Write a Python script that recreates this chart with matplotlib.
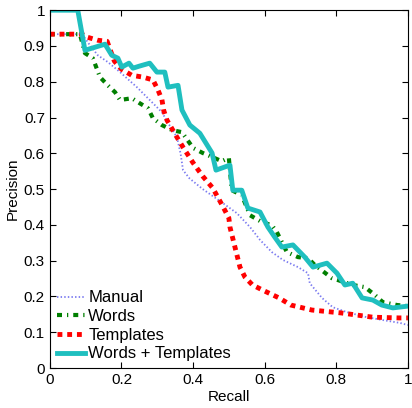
import matplotlib
matplotlib.use("Agg")
import matplotlib.pyplot as plt

plt.rcParams['font.family'] = ['Liberation Sans', 'DejaVu Sans']

manual_r = [0, 0.09, 0.112, 0.134, 0.162, 0.196, 0.243, 0.279, 0.313, 0.33, 0.355, 0.365, 0.372,
            0.39, 0.427, 0.483, 0.522, 0.559, 0.587, 0.62, 0.651, 0.693, 0.721, 0.726, 0.76,
            0.79, 0.83, 0.885, 0.93, 0.978, 1.0]
manual_p = [0.933, 0.933, 0.902, 0.874, 0.855, 0.827, 0.785, 0.749, 0.715, 0.685, 0.645, 0.6, 0.553,
            0.53, 0.5, 0.461, 0.433, 0.394, 0.358, 0.324, 0.302, 0.282, 0.265, 0.237, 0.196,
            0.17, 0.156, 0.142, 0.134, 0.126, 0.12]

words_r = [0, 0.084, 0.098, 0.12, 0.14, 0.162, 0.182, 0.196, 0.229, 0.251, 0.274, 0.288, 0.313,
           0.341, 0.369, 0.4, 0.427, 0.455, 0.48, 0.5, 0.508, 0.536, 0.559, 0.592, 0.62, 0.634,
           0.662, 0.693, 0.721, 0.74, 0.788, 0.804, 0.846, 0.88, 0.908, 0.93, 0.97, 1.0]
words_p = [0.933, 0.933, 0.88, 0.866, 0.813, 0.79, 0.771, 0.749, 0.754, 0.74, 0.726, 0.698, 0.679,
           0.665, 0.659, 0.615, 0.601, 0.589, 0.578, 0.587, 0.497, 0.483, 0.427, 0.408, 0.399, 0.38,
           0.324, 0.31, 0.307, 0.288, 0.251, 0.246, 0.232, 0.226, 0.204, 0.184, 0.176, 0.173]

templ_r = [0, 0.09, 0.103, 0.134, 0.16, 0.18, 0.2, 0.229, 0.26, 0.288, 0.302, 0.313, 0.318, 0.327,
           0.355, 0.372, 0.399, 0.427, 0.455, 0.483, 0.5, 0.503, 0.517, 0.531, 0.545, 0.566,
           0.6, 0.64, 0.673, 0.732, 0.813, 0.902, 0.975, 1.0]
templ_p = [0.933, 0.933, 0.925, 0.916, 0.913, 0.858, 0.835, 0.818, 0.813, 0.805, 0.777, 0.75, 0.72,
           0.693, 0.645, 0.617, 0.575, 0.536, 0.503, 0.452, 0.419, 0.394, 0.338, 0.282, 0.254,
           0.232, 0.215, 0.196, 0.176, 0.162, 0.154, 0.142, 0.14, 0.14]

wt_r = [0, 0.078, 0.098, 0.154, 0.173, 0.19, 0.201, 0.221, 0.232, 0.251, 0.279, 0.299, 0.321,
        0.33, 0.358, 0.369, 0.391, 0.419, 0.453, 0.464, 0.503, 0.511, 0.536, 0.553, 0.587,
        0.609, 0.628, 0.648, 0.679, 0.712, 0.735, 0.774, 0.802, 0.824, 0.846, 0.872, 0.902,
        0.927, 0.958, 1.0]
wt_p = [1.0, 1.0, 0.888, 0.905, 0.874, 0.866, 0.841, 0.852, 0.838, 0.844, 0.852, 0.827, 0.827,
        0.785, 0.79, 0.721, 0.679, 0.656, 0.601, 0.553, 0.567, 0.497, 0.497, 0.447, 0.436,
        0.394, 0.366, 0.338, 0.344, 0.31, 0.282, 0.293, 0.265, 0.232, 0.237, 0.196, 0.19,
        0.176, 0.168, 0.173]

fig = plt.figure(figsize=(4.12, 4.08), dpi=100)
ax = fig.add_axes([0.121, 0.098, 0.869, 0.877])

ax.plot(manual_r, manual_p, color='#7b7bf0', lw=1.3, ls=(0, (0.8, 1.2)), label='Manual')
ax.plot(words_r, words_p, color='#007f00', lw=3, ls=(0, (1.2, 1.2, 0.3, 1.2)), label='Words')
ax.plot(templ_r, templ_p, color='#ff0000', lw=3.5, ls=(0, (1, 1)), label='Templates')
ax.plot(wt_r, wt_p, color='#1fbfbf', lw=3.5, label='Words + Templates')

ax.set_xlim(0, 1)
ax.set_ylim(0, 1)
ax.set_xticks([0, 0.2, 0.4, 0.6, 0.8, 1])
ax.set_xticklabels(['0', '0.2', '0.4', '0.6', '0.8', '1'])
ax.set_yticks([0, 0.1, 0.2, 0.3, 0.4, 0.5, 0.6, 0.7, 0.8, 0.9, 1])
ax.set_yticklabels(['0', '0.1', '0.2', '0.3', '0.4', '0.5', '0.6', '0.7', '0.8', '0.9', '1'])
ax.tick_params(direction='in', top=True, right=True, labelsize=11, length=4)
ax.set_xlabel('Recall', fontsize=11, labelpad=2)
ax.set_ylabel('Precision', fontsize=11, labelpad=3)

ax.legend(loc='lower left', frameon=False, fontsize=12, handlelength=1.7,
          handletextpad=0.2, labelspacing=0.22, borderaxespad=0.1, borderpad=0.3)

plt.savefig('out.png', dpi=100)
